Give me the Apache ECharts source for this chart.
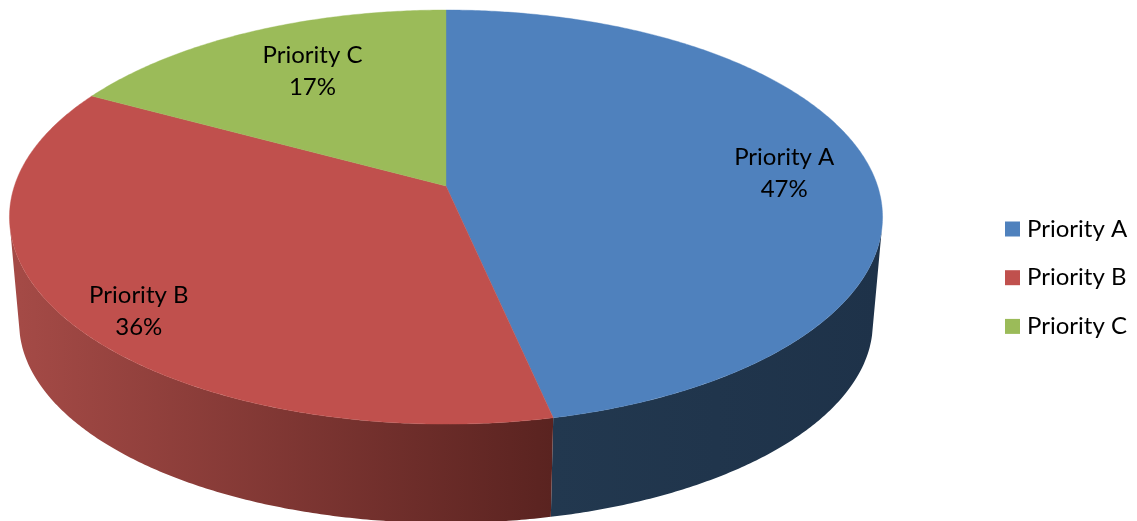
<!DOCTYPE html>
<html>
<head>
<meta charset="utf-8">
<style>html,body{margin:0;padding:0;background:#fff}#chart{width:1137px;height:521px}</style>
<script src="https://cdn.jsdelivr.net/npm/echarts@6/dist/echarts.min.js"></script>
</head>
<body>
<div id="chart"></div>
<script>
// Task share per priority class
const categories = ['Priority A', 'Priority B', 'Priority C'];
const shares = [46.6, 36.3, 17.1];
const topColors = ['#4F81BD', '#C0504D', '#9BBB59'];

// Perspective of the disc: top cap, bottom cap and foreshortening
const TILT = 0.15;
const CENTER_X = 446;
const topCap = { a: 431.6, b: 202.4, y0: 186 };
const bottomCap = { a: 422, b: 195.5, y0: 293 };
// Visible rim spans from the right tangent to the left tangent, in degrees from 12 o'clock
const RIM_FROM = 102;
const RIM_TO = 258;
// Label placement relative to each slice: radial fraction and angular nudge
const labelPlacement = [{ f: 0.794, d: 1.4 }, { f: 0.863, d: -4.1 }, { f: 0.707, d: 2.2 }];
const rimFills = [
  [[0, '#22384F'], [1, '#1E3249']],
  [[0, '#A44A46'], [1, '#5A2320']],
  null
];
const RIM_GRADIENT = [[552, 880], [20, 552], null];

const total = shares.reduce((s, v) => s + v, 0);

function project(cap, deg, f) {
  const t = deg * Math.PI / 180;
  const u = f * Math.sin(t), v = f * Math.cos(t);
  const w = 1 + TILT * v;
  return [CENTER_X + cap.a * u / w, cap.y0 - cap.b * v / w];
}
function arc(cap, from, to) {
  const n = Math.max(2, Math.ceil(Math.abs(to - from) * 2));
  const pts = [];
  for (let i = 0; i <= n; i++) pts.push(project(cap, from + (to - from) * i / n, 1));
  return pts;
}

function sliceRenderer(index) {
  const before = shares.slice(0, index).reduce((s, v) => s + v, 0);
  const start = before / total * 360;
  const end = (before + shares[index]) / total * 360;
  return function () {
    const children = [];
    const rimStart = Math.max(start, RIM_FROM);
    const rimEnd = Math.min(end, RIM_TO);
    if (rimEnd > rimStart && rimFills[index]) {
      const stops = rimFills[index].map(s => ({ offset: s[0], color: s[1] }));
      const span = RIM_GRADIENT[index];
      // Red rim darkens towards its right end; blue rim stays nearly flat
      children.push({
        type: 'polygon',
        shape: { points: arc(topCap, rimStart, rimEnd).concat(arc(bottomCap, rimEnd, rimStart)) },
        style: {
          fill: new echarts.graphic.LinearGradient(span[0], 0, span[1], 0, stops, true),
          stroke: null
        },
        silent: true
      });
    }
    children.push({
      type: 'polygon',
      shape: { points: [project(topCap, 0, 0)].concat(arc(topCap, start, end)) },
      style: { fill: topColors[index], stroke: topColors[index], lineWidth: 0.4 },
      silent: true
    });
    const place = labelPlacement[index];
    const at = project(topCap, (start + end) / 2 + place.d, place.f);
    children.push({
      type: 'text',
      style: {
        x: at[0], y: at[1],
        text: categories[index] + '\n' + Math.round(shares[index] / total * 100) + '%',
        align: 'center', verticalAlign: 'middle',
        font: '24px Lato', lineHeight: 32, fill: '#000'
      },
      silent: true
    });
    return { type: 'group', children };
  };
}

const chart = echarts.init(document.getElementById('chart'), null, { renderer: 'canvas' });
chart.setOption({
  animation: false,
  backgroundColor: '#fff',
  color: topColors,
  legend: {
    orient: 'vertical',
    left: 1005,
    top: 217,
    padding: 0,
    itemWidth: 15,
    itemHeight: 15,
    itemGap: 24.7,
    icon: 'rect',
    selectedMode: false,
    textStyle: { fontFamily: 'Lato', fontSize: 24, lineHeight: 24, color: '#000', padding: [0, 0, 0, 2] },
    data: categories
  },
  series: categories.map((name, i) => ({
    type: 'custom',
    name,
    coordinateSystem: 'none',
    silent: true,
    data: [shares[i]],
    renderItem: sliceRenderer(i)
  }))
});
</script>
</body>
</html>
